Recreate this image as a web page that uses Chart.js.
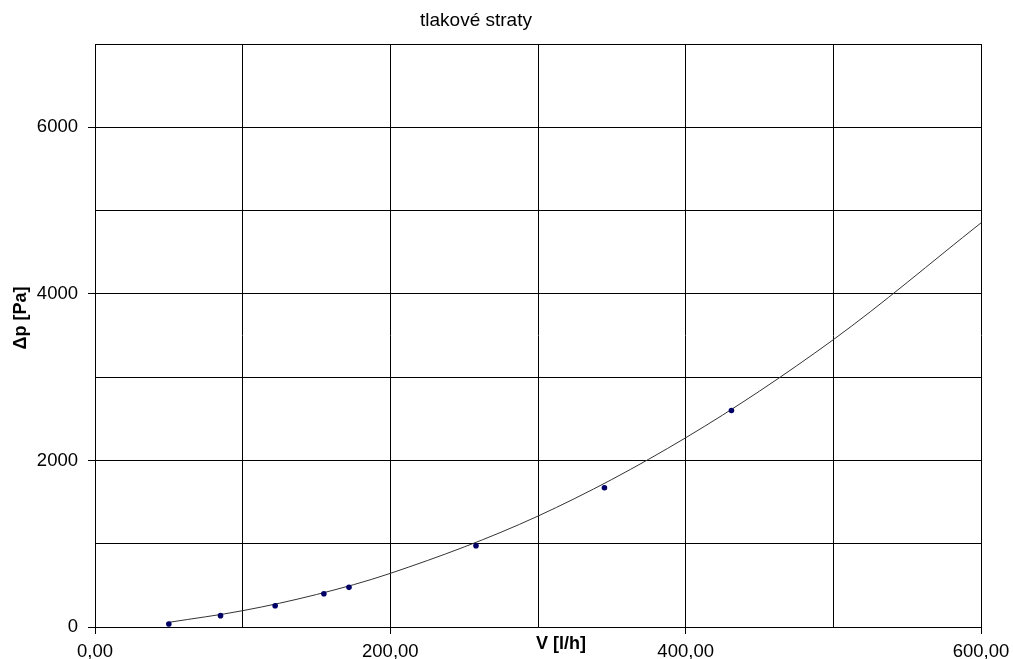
<!DOCTYPE html>
<html>
<head>
<meta charset="utf-8">
<script src="https://cdn.jsdelivr.net/npm/chart.js@4/dist/chart.umd.min.js"></script>
<style>
  body { margin: 0; background: #fff; }
  #wrap { width: 1013px; height: 659px; }
</style>
</head>
<body>
<div id="wrap"><canvas id="myChart"></canvas></div>
<script>
// measured points (V in l/h, dp in Pa)
var flowRates = [50, 85, 122, 155, 172, 258, 345, 431];
var pressureLoss = [36, 136, 256, 400, 476, 976, 1672, 2600];
// trend line
var trendFlow = [50, 100, 150, 200, 300, 400, 500, 600];
var trendLoss = [56, 196, 390, 644, 1332, 2272, 3450, 4852];

var chartTitle = "tlakové straty";
var xTitle = "V [l/h]";
var yTitle = "\u0394p [Pa]";

var FONT = "'Liberation Sans', Arial, sans-serif";

var measured = [];
for (i = 0; i < flowRates.length; i++) {
  measured.push({ x: flowRates[i], y: pressureLoss[i] });
}
var trend = [];
for (i = 0; i < trendFlow.length; i++) {
  trend.push({ x: trendFlow[i], y: trendLoss[i] });
}

// titles sit off-centre in the original, so draw them by hand
var chartTexts = {
  id: "chartTexts",
  afterDraw: function (chart) {
    var c = chart.ctx;
    c.save();
    c.fillStyle = "#000";
    c.textAlign = "center";
    c.textBaseline = "middle";
    c.font = "19px " + FONT;
    c.fillText(chartTitle, 476, 21);
    c.font = "bold 18px " + FONT;
    c.fillText(xTitle, 561, 644);
    c.translate(21, 318);
    c.rotate(-Math.PI / 2);
    c.fillText(yTitle, 0, 0);
    c.restore();
  },
};

var ctx = document.getElementById("myChart").getContext("2d");
var myChart = new Chart(ctx, {
  type: "scatter",
  data: {
    datasets: [
      {
        label: "trend",
        data: trend,
        showLine: true,
        borderColor: "#333",
        borderWidth: 1,
        pointRadius: 0,
        cubicInterpolationMode: "monotone",
        order: 2,
      },
      {
        label: "merané",
        data: measured,
        backgroundColor: "#000066",
        borderColor: "#000066",
        pointRadius: 2.8,
        pointBorderWidth: 0,
        order: 1,
      },
    ],
  },
  options: {
    responsive: true,
    maintainAspectRatio: false,
    animation: false,
    devicePixelRatio: 1,
    layout: { padding: { left: 0, right: 32, top: 44, bottom: 0 } },
    plugins: {
      legend: { display: false },
      tooltip: { enabled: false },
      title: { display: false },
    },
    scales: {
      x: {
        type: "linear",
        min: 0,
        max: 600,
        afterFit: function (s) {
          s.height = 32;
          s.paddingLeft = 0;
          s.paddingRight = 0;
        },
        ticks: {
          stepSize: 100,
          autoSkip: false,
          maxRotation: 0,
          padding: 7,
          color: "#000",
          font: { family: FONT, size: 18.5 },
          callback: function (v) {
            return v % 200 === 0 ? v.toFixed(2).replace(".", ",") : "";
          },
        },
        grid: {
          color: "#000",
          lineWidth: 1,
          tickLength: 7,
          tickColor: function (c) {
            return c.tick && c.tick.value % 200 === 0 ? "#000" : "rgba(0,0,0,0)";
          },
        },
        border: { color: "#000", width: 1 },
      },
      y: {
        min: 0,
        max: 7000,
        afterFit: function (s) {
          s.width = 95;
          s.paddingTop = 0;
          s.paddingBottom = 0;
        },
        ticks: {
          stepSize: 1000,
          autoSkip: false,
          padding: 10,
          color: "#000",
          font: { family: FONT, size: 18.5 },
          callback: function (v) {
            return v % 2000 === 0 && v < 7000 ? String(v) : "";
          },
        },
        grid: {
          color: "#000",
          lineWidth: 1,
          tickLength: 7,
          tickColor: function (c) {
            return c.tick && c.tick.value % 2000 === 0 && c.tick.value < 7000 ? "#000" : "rgba(0,0,0,0)";
          },
        },
        border: { color: "#000", width: 1 },
      },
    },
  },
  plugins: [chartTexts],
});
</script>
</body>
</html>
